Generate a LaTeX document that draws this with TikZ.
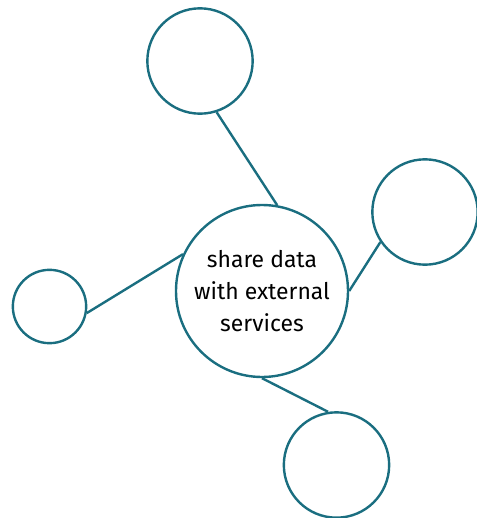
\documentclass[tikz,border=0pt]{standalone}
\usepackage{fontspec}
\setmainfont{Fira Sans}
\usetikzlibrary{positioning}
\definecolor{petrol}{HTML}{1A6E80}
\tikzset{
  hub/.style={draw=petrol,line width=1.8pt,circle,fill=white,inner sep=0pt,
    minimum size=129pt,align=center,font=\fontsize{17.2}{24}\selectfont},
  leaf/.style={draw=petrol,line width=1.8pt,circle,fill=white,inner sep=0pt,
    minimum size=79pt},
  leafsmall/.style={leaf,minimum size=55pt},
  link/.style={draw=petrol,line width=1.8pt}
}
\begin{document}
\begin{tikzpicture}[x=0.75pt,y=-0.75pt]
\useasboundingbox (0,0) rectangle (477,518);

\node[hub] (share) at (262,291) {share data\\with external\\services};

\node[leaf] (up) at (200,61) {};
\node[leaf] (right) at (425,212) {};
\node[leafsmall] (left) at (49.5,306.5) {};
\node[leaf] (down) at (336.5,465) {};

\draw[link] (share.80)--(up.-72);
\draw[link] (share.0)--(right.214);
\draw[link] (share.155)--(left.-10);
\draw[link] (share.-90)--(down.99);
\end{tikzpicture}
\end{document}
